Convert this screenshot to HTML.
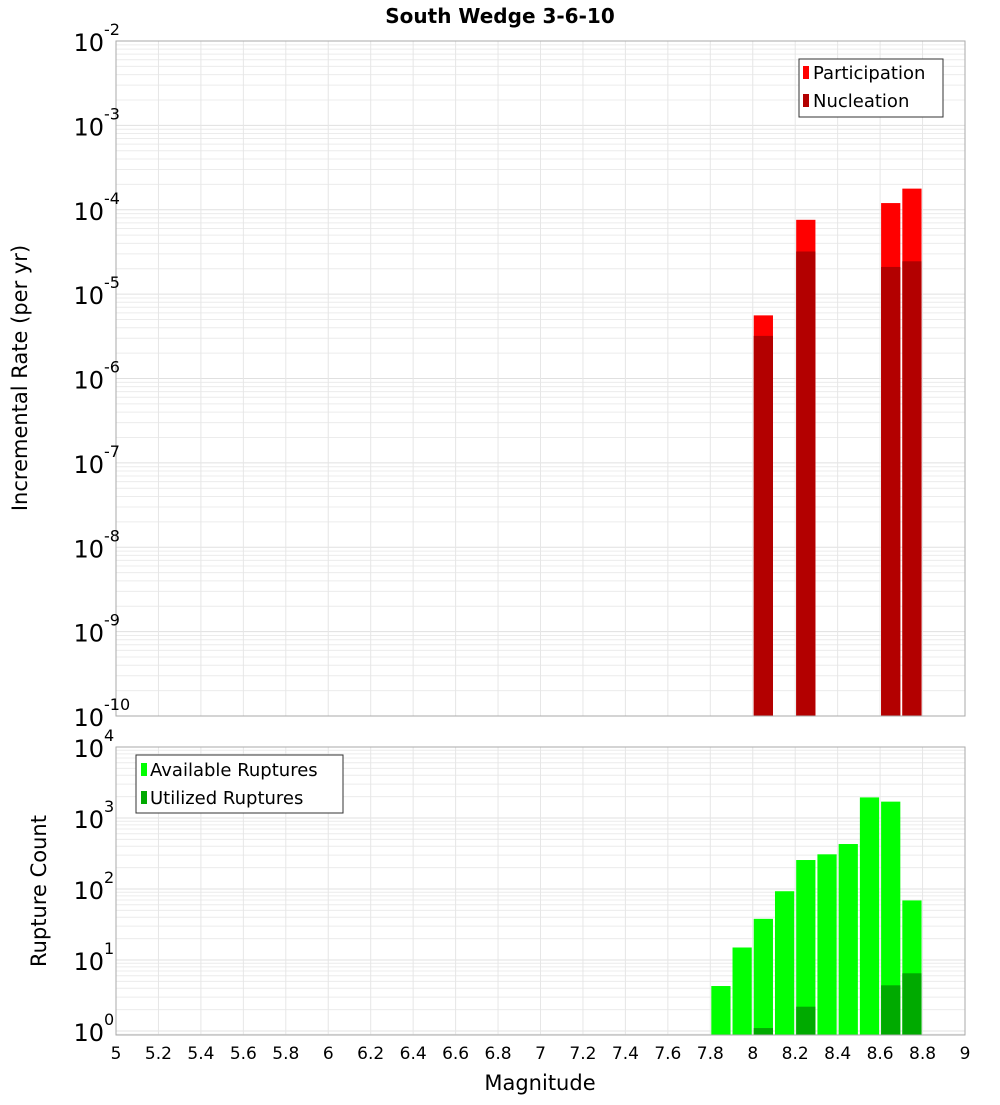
<!DOCTYPE html>
<html><head><meta charset="utf-8"><style>
body{margin:0;background:#fff;}
svg text{font-family:"DejaVu Sans","Liberation Sans",sans-serif;fill:#000;}
</style></head><body>
<svg id="chart" width="1000" height="1100" xmlns="http://www.w3.org/2000/svg">
<text x="500" y="23" text-anchor="middle" font-size="20" font-weight="bold">South Wedge 3-6-10</text>
<g id="top"></g><g id="bot"></g>
<text transform="translate(27,378) rotate(-90)" text-anchor="middle" font-size="21">Incremental Rate (per yr)</text>
<text transform="translate(46,891) rotate(-90)" text-anchor="middle" font-size="21">Rupture Count</text>
<text x="540" y="1090" text-anchor="middle" font-size="21">Magnitude</text>
<g>
<rect x="799" y="59" width="144" height="58" fill="#fff" stroke="#333"/>
<rect x="803" y="66" width="6" height="13" fill="#ff0000"/>
<text x="813" y="79" font-size="18">Participation</text>
<rect x="803" y="94" width="6" height="13" fill="#b30000"/>
<text x="813" y="107" font-size="18">Nucleation</text>
</g>
<g>
<rect x="136" y="755" width="207" height="58" fill="#fff" stroke="#333"/>
<rect x="141" y="763" width="6" height="13" fill="#00ff00"/>
<text x="150" y="776" font-size="18">Available Ruptures</text>
<rect x="141" y="791" width="6" height="13" fill="#00aa00"/>
<text x="150" y="804" font-size="18">Utilized Ruptures</text>
</g>
</svg>
<script>
const xTicks=[5,5.2,5.4,5.6,5.8,6,6.2,6.4,6.6,6.8,7,7.2,7.4,7.6,7.8,8,8.2,8.4,8.6,8.8,9];
const topMags=[8.0,8.2,8.6,8.7];
const participation=[5.6e-6,7.6e-5,1.2e-4,1.78e-4];
const nucleation=[3.2e-6,3.2e-5,2.1e-5,2.45e-5];
const botMags=[7.8,7.9,8.0,8.1,8.2,8.3,8.4,8.5,8.6,8.7];
const available=[4.3,15,38,93,256,308,430,1950,1700,69];
const utilizedMags=[8.0,8.2,8.6,8.7];
const utilized=[1.1,2.2,4.4,6.5];
const topExps=[-2,-3,-4,-5,-6,-7,-8,-9,-10];
const botExps=[4,3,2,1,0];
const NS="http://www.w3.org/2000/svg";
const X0=116,X1=965;
const x=m=>X0+(m-5)/4*(X1-X0);
const topY=v=>41+(-2-Math.log10(v))*(716-41)/8;
const botY=v=>747+(4-Math.log10(v))*71;
function mk(p,t,a){const e=document.createElementNS(NS,t);for(const k in a)e.setAttribute(k,a[k]);p.appendChild(e);return e;}
function panel(gid,yT,yB,yf,lo,hi,name){
 const g=document.getElementById(gid);
 const bg=mk(g,'rect',{x:X0,y:yT,width:X1-X0,height:yB-yT,fill:'#fff'});
 
 
 for(let e=lo;e<hi;e++)for(let k=1;k<10;k++){const yy=yf(k*Math.pow(10,e));if(yy<yT||yy>yB)continue;
  mk(g,'line',{x1:X0,x2:X1,y1:yy,y2:yy,stroke:k==1?'#e0e0e0':'#ececec','stroke-width':1});}
 xTicks.forEach(t=>mk(g,'line',{x1:x(t),x2:x(t),y1:yT,y2:yB,stroke:'#e6e6e6'}));
 return g;
}
function bars(g,mags,vals,yf,yB,col,name){
 mags.forEach((m,i)=>{const y0=yf(vals[i]);const r=mk(g,'rect',{x:x(m)+1,y:y0,width:x(m+0.1)-x(m)-2,height:yB-y0,fill:col});
 
 });
}
function frame(g,yT,yB){mk(g,'rect',{x:X0,y:yT,width:X1-X0,height:yB-yT,fill:'none',stroke:'#aaa'});}
function ylabels(g,exps,yf){exps.forEach(e=>{const yy=yf(Math.pow(10,e));
 const t=mk(g,'text',{x:104,y:yy+10,'text-anchor':'end','font-size':24});
 
 
 t.textContent='10';
 const s=mk(g,'text',{x:104,y:yy-6,'font-size':16});
 
 
 s.textContent=String(e);});}
const gt=panel('top',41,716,topY,-10,-2,'top');
bars(gt,topMags,participation,topY,716,'#ff0000','participation');
bars(gt,topMags,nucleation,topY,716,'#b30000','nucleation');
frame(gt,41,716);ylabels(gt,topExps,topY);
const gb=panel('bot',747,1035,botY,-1,4,'bottom');
bars(gb,botMags,available,botY,1035,'#00ff00','available');
bars(gb,utilizedMags,utilized,botY,1035,'#00aa00','utilized');
frame(gb,747,1035);ylabels(gb,botExps,botY);
xTicks.forEach(t=>{const e=mk(gb,'text',{x:x(t),y:1059,'text-anchor':'middle','font-size':17});
 
 
 e.textContent=String(t);});
</script>
</body></html>
